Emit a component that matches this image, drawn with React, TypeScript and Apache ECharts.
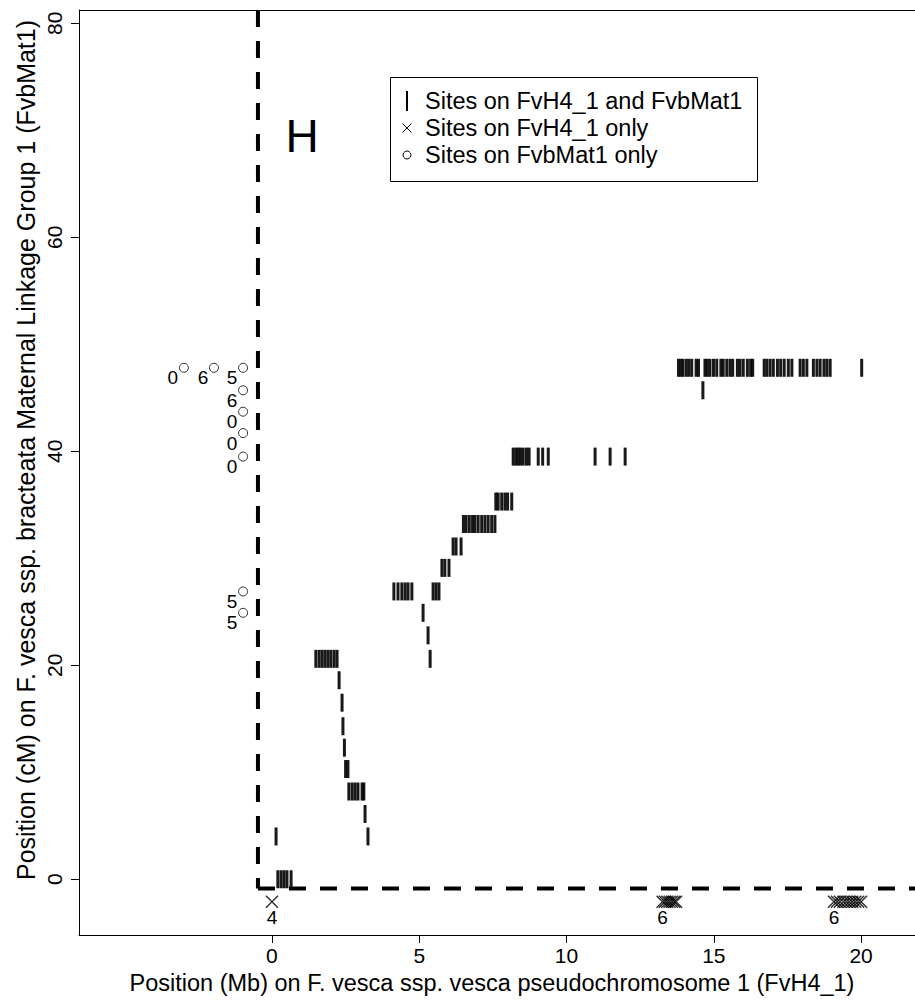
import React, { useEffect, useRef } from "react";
import * as echarts from "echarts";

const FONT = "'Liberation Sans', Arial, Helvetica, sans-serif";

// Axis ranges and ticks
const X_MIN = -6.55;
const X_MAX = 21.83;
const Y_MIN = -5.21;
const Y_MAX = 81.24;
const xTickValues = [0, 5, 10, 15, 20];
const yTickValues = [0, 20, 40, 60, 80];

// Dashed divider positions
const dividerMb = -0.475;
const dividerCM = -0.86;

// Sites on FvH4_1 and FvbMat1 (rows of linkage position, cM, with physical positions, Mb)
const sharedRowCM = [47.8, 45.7, 39.5, 35.3, 33.2, 31.1, 29.1, 26.9, 24.9, 22.8, 20.6, 18.6, 16.5, 14.3, 12.3, 10.3, 8.2, 6.1, 4.0, 0.0];
const sharedRowMb = [
  [13.8, 13.88, 13.95, 14.06, 14.15, 14.25, 14.4, 14.48, 14.7, 14.78, 14.87, 14.99, 15.1, 15.24, 15.32, 15.44, 15.55, 15.64, 15.8, 15.89, 16.0, 16.14, 16.25, 16.32, 16.71, 16.8, 16.91, 17.02, 17.16, 17.27, 17.39, 17.53, 17.65, 17.93, 18.04, 18.16, 18.38, 18.5, 18.61, 18.74, 18.84, 18.95, 20.02],
  [14.63],
  [8.19, 8.28, 8.36, 8.44, 8.53, 8.64, 8.73, 9.04, 9.19, 9.38, 10.97, 11.48, 11.99],
  [7.6, 7.68, 7.8, 7.91, 8.0, 8.14],
  [6.5, 6.59, 6.7, 6.81, 6.89, 7.0, 7.12, 7.23, 7.34, 7.46, 7.57],
  [6.15, 6.25, 6.42],
  [5.77, 5.87, 6.01],
  [4.14, 4.28, 4.41, 4.52, 4.62, 4.75, 5.47, 5.57, 5.67],
  [5.13],
  [5.3],
  [1.49, 1.6, 1.7, 1.8, 1.9, 2.0, 2.11, 2.21, 5.37],
  [2.28],
  [2.38],
  [2.41],
  [2.46],
  [2.5, 2.58],
  [2.61, 2.72, 2.82, 2.92, 3.06, 3.12],
  [3.16],
  [0.14, 3.26],
  [0.2, 0.31, 0.41, 0.51, 0.65],
];

// Sites on FvH4_1 only (drawn below the map)
const h4OnlyMb = [0.0, 13.26, 13.34, 13.42, 13.5, 13.58, 13.66, 13.72, 19.08, 19.18, 19.28, 19.4, 19.5, 19.6, 19.7, 19.8, 19.9, 20.0];
const h4OnlyCM = -2.1;
const h4OnlyLabelIndex = [0, 1, 8];
const h4OnlyLabels = ["4", "6", "6"];

// Sites on FvbMat1 only (drawn left of the chromosome)
const matOnlyMb = [-2.99, -1.97, -0.98, -0.98, -0.98, -0.98, -0.98, -0.98, -0.98];
const matOnlyCM = [47.8, 47.8, 47.8, 45.7, 43.7, 41.7, 39.5, 26.9, 24.9];
const matOnlyLabels = ["0", "6", "5", "6", "0", "0", "0", "5", "5"];

const xTitle = "Position (Mb) on F. vesca ssp. vesca pseudochromosome 1 (FvH4_1)";
const yTitle = "Position (cM) on F. vesca ssp. bracteata Maternal Linkage Group 1 (FvbMat1)";
const legendNames = ["Sites on FvH4_1 and FvbMat1", "Sites on FvH4_1 only", "Sites on FvbMat1 only"];
const panelLetter = "H";

export default function App() {
  const ref = useRef<HTMLDivElement>(null);

  useEffect(() => {
    document.body.style.margin = "0";
    const chart = echarts.init(ref.current!, null, { renderer: "svg" });

    const sharedData: number[][] = [];
    sharedRowCM.forEach((cm, i) => {
      sharedRowMb[i].forEach((mb) => sharedData.push([mb, cm]));
    });

    const pointLabel = {
      fontSize: 19,
      color: "#000",
      fontFamily: FONT,
      textBorderWidth: 0,
      opacity: 1,
    };

    const crossData = h4OnlyMb.map((mb, i) => {
      const li = h4OnlyLabelIndex.indexOf(i);
      if (li >= 0) {
        return {
          value: [mb, h4OnlyCM],
          label: {
            ...pointLabel,
            show: true,
            formatter: h4OnlyLabels[li],
            position: "inside",
            offset: [0, 16],
          },
        };
      }
      return { value: [mb, h4OnlyCM] };
    });

    const circleData = matOnlyMb.map((mb, i) => [mb, matOnlyCM[i], matOnlyLabels[i]]);

    const legendX = 390;
    const legendY = 77;
    const legendW = 367;
    const legendH = 104;
    const rowY = [101, 128, 155];
    const symX = 407;
    const textX = 425;

    const option: any = {
      animation: false,
      backgroundColor: "#ffffff",
      textStyle: { fontFamily: FONT },
      grid: { left: 79, top: 10, right: 0, bottom: 66, containLabel: false },
      xAxis: {
        type: "value",
        min: X_MIN,
        max: X_MAX,
        axisLine: { show: true, onZero: false, lineStyle: { color: "#000", width: 1 } },
        axisTick: { show: true, length: 8, customValues: xTickValues, lineStyle: { color: "#000" } },
        axisLabel: { customValues: xTickValues, fontSize: 21, color: "#000", margin: 10, fontFamily: FONT },
        splitLine: { show: false },
      },
      yAxis: {
        type: "value",
        min: Y_MIN,
        max: Y_MAX,
        axisLine: { show: true, onZero: false, lineStyle: { color: "#000", width: 1 } },
        axisTick: { show: true, length: 8, customValues: yTickValues, lineStyle: { color: "#000" } },
        axisLabel: { customValues: yTickValues, fontSize: 21, color: "#000", margin: 14, rotate: 90, fontFamily: FONT },
        splitLine: { show: false },
      },
      series: [
        {
          name: "divider vertical",
          type: "line",
          data: [[dividerMb, Y_MAX], [dividerMb, dividerCM]],
          symbol: "none",
          silent: true,
          lineStyle: { color: "#000", width: 4, type: [17, 14] },
          z: 1,
        },
        {
          name: "divider horizontal",
          type: "line",
          data: [[dividerMb, dividerCM], [X_MAX, dividerCM]],
          symbol: "none",
          silent: true,
          lineStyle: { color: "#000", width: 4, type: [17, 14] },
          z: 1,
        },
        {
          name: legendNames[0],
          type: "scatter",
          data: sharedData,
          symbol: "rect",
          symbolSize: [3, 18],
          itemStyle: { color: "#000", opacity: 0.9 },
          z: 3,
        },
        {
          name: legendNames[1],
          type: "scatter",
          data: crossData,
          symbol: "path://M0 0L10 10M10 0L0 10",
          symbolSize: 12,
          itemStyle: { color: "none", borderColor: "#000", borderWidth: 1.5 },
          z: 3,
        },
        {
          name: legendNames[2],
          type: "scatter",
          data: circleData,
          symbol: "circle",
          symbolSize: 9,
          itemStyle: { color: "#fff", borderColor: "#000", borderWidth: 1 },
          label: {
            ...pointLabel,
            show: true,
            position: "inside",
            offset: [-11, 10],
            formatter: (p: any) => p.data[2],
          },
          z: 3,
        },
      ],
      graphic: [
        { type: "line", shape: { x1: 79, y1: 10.5, x2: 915, y2: 10.5 }, style: { stroke: "#000", lineWidth: 1 }, silent: true },
        {
          type: "text",
          x: 302,
          y: 136,
          style: { text: panelLetter, font: `46px ${FONT}`, fill: "#000", textAlign: "center", textVerticalAlign: "middle" },
        },
        {
          type: "text",
          x: 492,
          y: 983,
          style: { text: xTitle, font: `23.5px ${FONT}`, fill: "#000", textAlign: "center", textVerticalAlign: "middle" },
        },
        {
          type: "text",
          x: 26,
          y: 450,
          rotation: Math.PI / 2,
          style: { text: yTitle, font: `25px ${FONT}`, fill: "#000", textAlign: "center", textVerticalAlign: "middle" },
        },
        {
          type: "rect",
          shape: { x: legendX + 0.5, y: legendY + 0.5, width: legendW, height: legendH },
          style: { fill: "#fff", stroke: "#000", lineWidth: 1 },
          z: 10,
        },
        {
          type: "rect",
          shape: { x: symX - 1, y: rowY[0] - 10, width: 2, height: 20 },
          style: { fill: "#000" },
          z: 11,
        },
        {
          type: "line",
          shape: { x1: symX - 4.5, y1: rowY[1] - 4.5, x2: symX + 4.5, y2: rowY[1] + 4.5 },
          style: { stroke: "#000", lineWidth: 1 },
          z: 11,
        },
        {
          type: "line",
          shape: { x1: symX + 4.5, y1: rowY[1] - 4.5, x2: symX - 4.5, y2: rowY[1] + 4.5 },
          style: { stroke: "#000", lineWidth: 1 },
          z: 11,
        },
        {
          type: "circle",
          shape: { cx: symX, cy: rowY[2], r: 4 },
          style: { fill: "none", stroke: "#000", lineWidth: 1 },
          z: 11,
        },
        ...legendNames.map((name, i) => ({
          type: "text",
          x: textX,
          y: rowY[i],
          z: 11,
          style: { text: name, font: `23.5px ${FONT}`, fill: "#000", textAlign: "left", textVerticalAlign: "middle" },
        })),
      ],
    };

    chart.setOption(option);
    return () => chart.dispose();
  }, []);

  return (
    <div
      ref={ref}
      style={{ position: "absolute", left: 0, top: 0, width: 915, height: 1001, background: "#fff" }}
    />
  );
}
